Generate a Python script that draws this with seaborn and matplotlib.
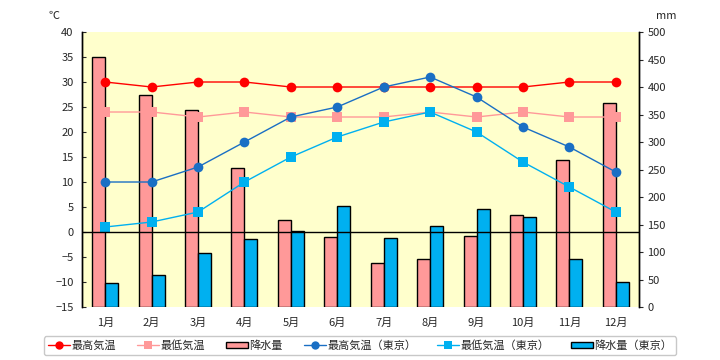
import numpy as np
import pandas as pd
import matplotlib
matplotlib.use('Agg')
import matplotlib.pyplot as plt
import seaborn as sns
from matplotlib.lines import Line2D
from matplotlib.patches import Patch

months = ['1月', '2月', '3月', '4月', '5月', '6月', '7月', '8月', '9月', '10月', '11月', '12月']
max_temp = [30, 29, 30, 30, 29, 29, 29, 29, 29, 29, 30, 30]
min_temp = [24, 24, 23, 24, 23, 23, 23, 24, 23, 24, 23, 23]
rain = [454, 385, 358, 252, 159, 128, 80, 88, 130, 168, 267, 371]
max_temp_tokyo = [10, 10, 13, 18, 23, 25, 29, 31, 27, 21, 17, 12]
min_temp_tokyo = [1, 2, 4, 10, 15, 19, 22, 24, 20, 14, 9, 4]
rain_tokyo = [43, 59, 99, 123, 138, 183, 125, 147, 179, 163, 88, 45]

series_names = ['最高気温', '最低気温', '降水量', '最高気温（東京）', '最低気温（東京）', '降水量（東京）']

sns.set_style('white')
plt.rcParams['font.family'] = ['Noto Sans CJK JP', 'DejaVu Sans']

fig = plt.figure(figsize=(7.2, 3.6), dpi=100)
ax_rain = fig.add_axes([0.1139, 0.1472, 0.7736, 0.7639])
ax_rain.set_facecolor('#FFFFCC')
ax_temp = ax_rain.twinx()

# bars (rain)
df_rain = pd.DataFrame({
    'month': months * 2,
    'rain': rain + rain_tokyo,
    'series': ['降水量'] * 12 + ['降水量（東京）'] * 12,
})
sns.barplot(data=df_rain, x='month', y='rain', hue='series', ax=ax_rain,
            palette=['#FF9999', '#00B0F0'], edgecolor='black', linewidth=1,
            width=0.56, legend=False, saturation=1)
ax_rain.set_ylim(0, 500)
ax_rain.set_yticks(range(0, 501, 50))
ax_rain.set_xlim(-0.5, 11.5)
ax_rain.yaxis.tick_right()
ax_rain.set_xlabel('')
ax_rain.set_ylabel('')

# lines (temperature)
x = np.arange(12)
sns.lineplot(x=x, y=max_temp, ax=ax_temp, color='#FF0000', marker='o', markersize=7,
             markeredgewidth=0, linewidth=1)
sns.lineplot(x=x, y=min_temp, ax=ax_temp, color='#FF9999', marker='s', markersize=7,
             markeredgewidth=0, linewidth=1)
sns.lineplot(x=x, y=max_temp_tokyo, ax=ax_temp, color='#1A6FC4', marker='o', markersize=7,
             markeredgewidth=0, linewidth=1)
sns.lineplot(x=x, y=min_temp_tokyo, ax=ax_temp, color='#00B0F0', marker='s', markersize=7,
             markeredgewidth=0, linewidth=1)
ax_temp.axhline(0, color='black', linewidth=1)
ax_temp.set_ylim(-15, 40)
ax_temp.set_yticks(range(-15, 41, 5))
ax_temp.set_xlim(-0.5, 11.5)
ax_temp.yaxis.tick_left()

for a in (ax_rain, ax_temp):
    for s in ('top', 'bottom'):
        a.spines[s].set_visible(False)
    a.spines['left'].set_color('black')
    a.spines['right'].set_color('black')
    a.spines['left'].set_linewidth(1)
    a.spines['right'].set_linewidth(1)

ax_temp.tick_params(axis='y', which='both', left=True, right=False, direction='in',
                    length=3, labelsize=8, pad=6)
ax_rain.tick_params(axis='y', which='both', left=False, right=True, direction='out',
                    length=3, labelsize=8, pad=3)
ax_rain.tick_params(axis='x', bottom=False, labelsize=8, pad=4)
ax_temp.tick_params(axis='x', bottom=False, labelbottom=False)
ax_rain.set_xticks(x)
ax_rain.set_xticklabels(months)

fig.text(0.075, 0.955, '℃', fontsize=8, ha='center', va='center')
fig.text(0.925, 0.955, 'mm', fontsize=8, ha='center', va='center')

handles = [
    Line2D([], [], color='#FF0000', marker='o', markersize=6, markeredgewidth=0, linewidth=1),
    Line2D([], [], color='#FF9999', marker='s', markersize=6, markeredgewidth=0, linewidth=1),
    Patch(facecolor='#FF9999', edgecolor='black', linewidth=1),
    Line2D([], [], color='#1A6FC4', marker='o', markersize=6, markeredgewidth=0, linewidth=1),
    Line2D([], [], color='#00B0F0', marker='s', markersize=6, markeredgewidth=0, linewidth=1),
    Patch(facecolor='#00B0F0', edgecolor='black', linewidth=1),
]
leg = fig.legend(handles, series_names, loc='center', bbox_to_anchor=(0.5, 0.04),
                 ncol=6, fontsize=8, frameon=True, fancybox=True, handlelength=2.0,
                 handleheight=0.5, columnspacing=1.9, handletextpad=0.1,
                 borderpad=0.35, edgecolor='#BBBBBB')
leg.get_frame().set_linewidth(1)

fig.savefig('out.png', dpi=100)
